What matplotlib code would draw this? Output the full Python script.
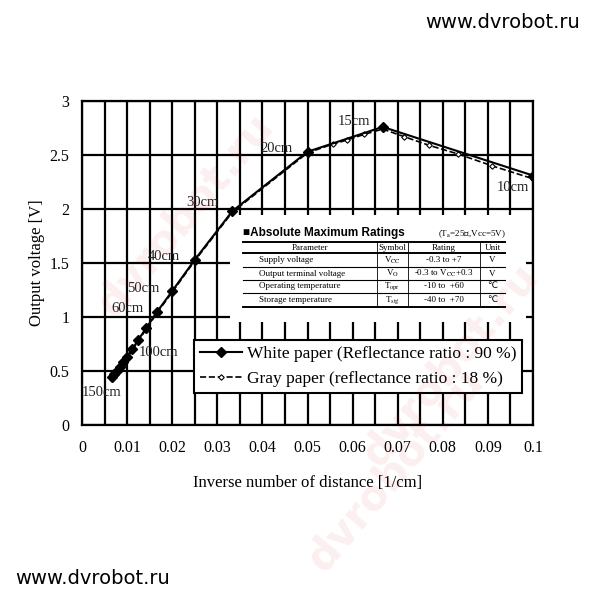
import matplotlib
matplotlib.use('Agg')
import matplotlib.pyplot as plt
import numpy as np
from matplotlib.patches import Rectangle

plt.rcParams['font.family'] = ['Liberation Serif', 'DejaVu Serif', 'DejaVu Sans']
plt.rcParams['mathtext.fontset'] = 'stix'

# white paper (90 %)
dist_white = np.array([150, 140, 130, 120, 110, 100, 90, 80, 70, 60, 50, 40, 30, 20, 15, 10])
volt_white = np.array([0.44, 0.47, 0.50, 0.54, 0.58, 0.63, 0.70, 0.79, 0.90, 1.05,
                       1.24, 1.53, 1.98, 2.53, 2.76, 2.31])
# gray paper (18 %)
dist_gray = np.array([150, 140, 130, 120, 110, 100, 90, 80, 70, 60, 50, 40, 30, 20,
                      18, 17, 16, 15, 14, 13, 12, 11, 10])
volt_gray = np.array([0.43, 0.46, 0.49, 0.53, 0.57, 0.62, 0.69, 0.78, 0.89, 1.04,
                      1.23, 1.52, 1.97, 2.52, 2.60, 2.64, 2.69, 2.74, 2.67, 2.59,
                      2.51, 2.40, 2.28])

dist_labels = ['150cm', '100cm', '60cm', '50cm', '40cm', '30cm', '20cm', '15cm', '10cm']
label_pos = [(0.0000, 0.27), (0.0125, 0.64), (0.0065, 1.05), (0.0100, 1.23),
             (0.0145, 1.53), (0.0232, 2.03), (0.0395, 2.53), (0.0568, 2.78), (0.0920, 2.17)]

xticks = np.arange(0, 0.1001, 0.01)
xtick_labels = ['0', '0.01', '0.02', '0.03', '0.04', '0.05', '0.06', '0.07', '0.08', '0.09', '0.1']
yticks = np.arange(0, 3.01, 0.5)
ytick_labels = ['0', '0.5', '1', '1.5', '2', '2.5', '3']

table_cols = ['Parameter', 'Symbol', 'Rating', 'Unit']
table_rows = [
    ['Supply voltage', r'V$_{\mathrm{CC}}$', '-0.3 to +7', 'V'],
    ['Output terminal voltage', r'V$_{\mathrm{O}}$', r'-0.3 to V$_{\mathrm{CC}}$+0.3', 'V'],
    ['Operating temperature', r'T$_{\mathrm{opr}}$', '-10 to  +60', '\u2103'],
    ['Storage temperature', r'T$_{\mathrm{stg}}$', '-40 to  +70', '\u2103'],
]

fig = plt.figure(figsize=(6, 6), dpi=100)
ax = fig.add_axes([82/600, 175/600, 451/600, 324/600])

x_w = 1.0 / dist_white
x_g = 1.0 / dist_gray

ax.plot(x_g, volt_gray, '--', color='black', lw=1.2, marker='D', ms=2.8,
        mfc='white', mec='black', mew=0.8, zorder=3,
        label='Gray paper (reflectance ratio : 18 %)')
ax.plot(x_w, volt_white, '-', color='black', lw=1.5, marker='D', ms=5.5,
        mfc='black', mec='black', zorder=4,
        label='White paper (Reflectance ratio : 90 %)')

for lab, (lx, ly) in zip(dist_labels, label_pos):
    ax.text(lx, ly, lab, fontsize=10.5, zorder=5, color='#222222')

ax.set_xlim(0, 0.1)
ax.set_ylim(0, 3)
ax.set_xticks(xticks)
ax.set_xticklabels(xtick_labels, fontsize=11.5)
ax.set_xticks(np.arange(0.005, 0.1, 0.01), minor=True)
ax.set_yticks(yticks)
ax.set_yticklabels(ytick_labels, fontsize=11.5)
ax.tick_params(which='both', length=0)
ax.tick_params(axis='x', pad=11)
ax.tick_params(axis='y', pad=9)
ax.grid(which='both', axis='x', color='black', lw=1.6)
ax.grid(which='major', axis='y', color='black', lw=1.6)
for s in ax.spines.values():
    s.set_linewidth(1.6)

ax.set_xlabel('Inverse number of distance [1/cm]', fontsize=12)
ax.xaxis.set_label_coords(0.5, -0.155)
ax.set_ylabel('Output voltage [V]', fontsize=12, va='center')
ax.yaxis.set_label_coords(-0.1, 0.5)

# white area behind the ratings table
ax.add_patch(Rectangle((0.0329, 0.95), 0.0655, 0.99, facecolor='white',
                       edgecolor='none', zorder=1.8))

handles, labels = ax.get_legend_handles_labels()
leg = ax.legend(handles[::-1], labels[::-1], loc='upper left',
                bbox_to_anchor=(0.248, 0.262), borderaxespad=0, fontsize=12.5,
                fancybox=False, framealpha=1, edgecolor='black',
                handlelength=2.4, handletextpad=0.3, borderpad=0.35,
                labelspacing=0.5)
leg.get_frame().set_linewidth(1.5)
leg.set_zorder(6)

# overlay in pixel coords for table and site text
ov = fig.add_axes([0, 0, 1, 1], zorder=10)
ov.set_xlim(0, 600)
ov.set_ylim(600, 0)
ov.axis('off')
ov.patch.set_alpha(0)

ov.text(243, 233, '\u25a0Absolute Maximum Ratings', fontsize=8.5, fontweight='bold',
        family=['Liberation Sans', 'DejaVu Sans'], va='center', ha='left')
ov.text(506, 234, '(T$_{\\mathrm{a}}$=25\u2103,Vcc=5V)', fontsize=6.5, va='center', ha='right',
        family=['Liberation Serif', 'DejaVu Sans'])

tx0, tx1 = 243, 505
col_x = [243, 377, 408, 480, 505]
row_y = [242, 253, 267, 280, 293, 307]
for i, yy in enumerate(row_y):
    lw = 1.4 if i in (0, 1, 5) else 0.8
    ov.plot([tx0, tx1], [yy, yy], color='black', lw=lw)
for xx in col_x[1:-1]:
    ov.plot([xx, xx], [242, 307], color='black', lw=0.6)

for j, c in enumerate(table_cols):
    ov.text((col_x[j] + col_x[j+1]) / 2, 247.5, c, fontsize=6.5, ha='center', va='center')
for i, row in enumerate(table_rows):
    yc = (row_y[i+1] + row_y[i+2]) / 2
    ov.text(259, yc, row[0], fontsize=6.5, ha='left', va='center')
    for j in range(1, 4):
        ov.text((col_x[j] + col_x[j+1]) / 2, yc, row[j], fontsize=6.5, ha='center',
                va='center', family=['Liberation Serif', 'DejaVu Sans'])

ov.text(580, 22, 'www.dvrobot.ru', fontsize=14, family='DejaVu Sans', ha='right', va='center')
ov.text(15, 578, 'www.dvrobot.ru', fontsize=14, family='DejaVu Sans', ha='left', va='center')

# faint watermarks
for (wx, wy) in [(185, 215), (450, 365), (395, 470)]:
    ov.text(wx, wy, 'dvrobot.ru', fontsize=30, color='#e03030', alpha=0.08,
            rotation=50, ha='center', va='center', family='DejaVu Sans', fontweight='bold')

fig.savefig('out.png', dpi=100)
